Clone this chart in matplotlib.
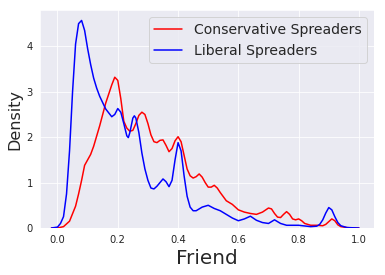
import matplotlib
matplotlib.use("Agg")
import matplotlib.pyplot as plt
import seaborn as sns

sns.set_style("darkgrid")

# friend score grid and densities
cons_x = [-0.02, 0.0, 0.02, 0.04, 0.06, 0.07, 0.08, 0.09, 0.10, 0.11, 0.12, 0.14, 0.16,
          0.18, 0.19, 0.20, 0.21, 0.22, 0.23, 0.24, 0.25, 0.26, 0.27, 0.28, 0.29, 0.30,
          0.31, 0.32, 0.33, 0.34, 0.35, 0.36, 0.37, 0.38, 0.39, 0.40, 0.41, 0.42, 0.43,
          0.44, 0.45, 0.46, 0.47, 0.48, 0.49, 0.50, 0.51, 0.52, 0.53, 0.54, 0.56, 0.58,
          0.60, 0.62, 0.64, 0.66, 0.68, 0.70, 0.71, 0.72, 0.73, 0.74, 0.75, 0.76, 0.77,
          0.78, 0.79, 0.80, 0.81, 0.82, 0.84, 0.86, 0.88, 0.89, 0.90, 0.91, 0.92, 0.93,
          0.94, 0.96, 0.98, 1.00]
cons_y = [0.0, 0.0, 0.03, 0.15, 0.48, 0.75, 1.05, 1.38, 1.5, 1.62, 1.8, 2.25, 2.75,
          3.15, 3.32, 3.25, 2.85, 2.35, 2.2, 2.13, 2.15, 2.3, 2.48, 2.55, 2.5, 2.3,
          2.05, 1.9, 1.88, 1.93, 1.94, 1.82, 1.68, 1.75, 1.92, 2.01, 1.9, 1.6, 1.3,
          1.15, 1.1, 1.13, 1.19, 1.12, 1.0, 0.9, 0.9, 0.94, 0.88, 0.78, 0.6, 0.52,
          0.4, 0.35, 0.32, 0.3, 0.35, 0.44, 0.42, 0.32, 0.24, 0.23, 0.3, 0.36, 0.3,
          0.2, 0.18, 0.2, 0.16, 0.1, 0.06, 0.06, 0.05, 0.08, 0.14, 0.2, 0.16, 0.07,
          0.03, 0.01, 0.0, 0.0]

lib_x = [-0.02, 0.0, 0.01, 0.02, 0.03, 0.04, 0.05, 0.06, 0.07, 0.08, 0.09, 0.10, 0.11,
         0.12, 0.13, 0.14, 0.16, 0.18, 0.19, 0.20, 0.21, 0.22, 0.23, 0.235, 0.24, 0.25,
         0.255, 0.26, 0.27, 0.28, 0.29, 0.30, 0.31, 0.32, 0.33, 0.34, 0.35, 0.36, 0.37,
         0.38, 0.39, 0.40, 0.41, 0.42, 0.43, 0.44, 0.45, 0.46, 0.47, 0.48, 0.50, 0.52,
         0.54, 0.56, 0.58, 0.60, 0.62, 0.64, 0.66, 0.68, 0.70, 0.72, 0.74, 0.76, 0.80,
         0.84, 0.86, 0.87, 0.88, 0.89, 0.90, 0.91, 0.92, 0.93, 0.94, 0.96, 1.00]
lib_y = [0.0, 0.02, 0.1, 0.25, 0.75, 1.7, 3.0, 4.05, 4.5, 4.57, 4.35, 3.95, 3.6,
         3.3, 3.08, 2.9, 2.62, 2.45, 2.5, 2.63, 2.55, 2.3, 2.03, 1.99, 2.1, 2.42,
         2.47, 2.42, 2.1, 1.65, 1.3, 1.05, 0.88, 0.86, 0.92, 1.0, 1.08, 1.02, 0.91,
         1.05, 1.5, 1.88, 1.7, 1.15, 0.7, 0.46, 0.38, 0.38, 0.42, 0.46, 0.5, 0.43,
         0.38, 0.3, 0.22, 0.16, 0.2, 0.26, 0.17, 0.12, 0.1, 0.18, 0.1, 0.06, 0.06,
         0.03, 0.04, 0.08, 0.18, 0.33, 0.45, 0.4, 0.25, 0.12, 0.05, 0.01, 0.0]

fig = plt.figure(figsize=(385 / 72, 275 / 72), dpi=72)
ax = fig.add_axes([40 / 385, 47 / 275, 334 / 385, 218 / 275])

ax.plot(cons_x, cons_y, color="red", lw=1.5, label="Conservative Spreaders")
ax.plot(lib_x, lib_y, color="blue", lw=1.5, label="Liberal Spreaders")

ax.set_xlim(-0.058, 1.05)
ax.set_ylim(0, 4.8)
ax.set_xticks([0.0, 0.2, 0.4, 0.6, 0.8, 1.0])
ax.set_yticks([0, 1, 2, 3, 4])
ax.tick_params(labelsize=10)
ax.set_xlabel("Friend", fontsize=20)
ax.set_ylabel("Density", fontsize=16)
ax.legend(loc="upper right", fontsize=14)

fig.savefig("out.png", dpi=72)
